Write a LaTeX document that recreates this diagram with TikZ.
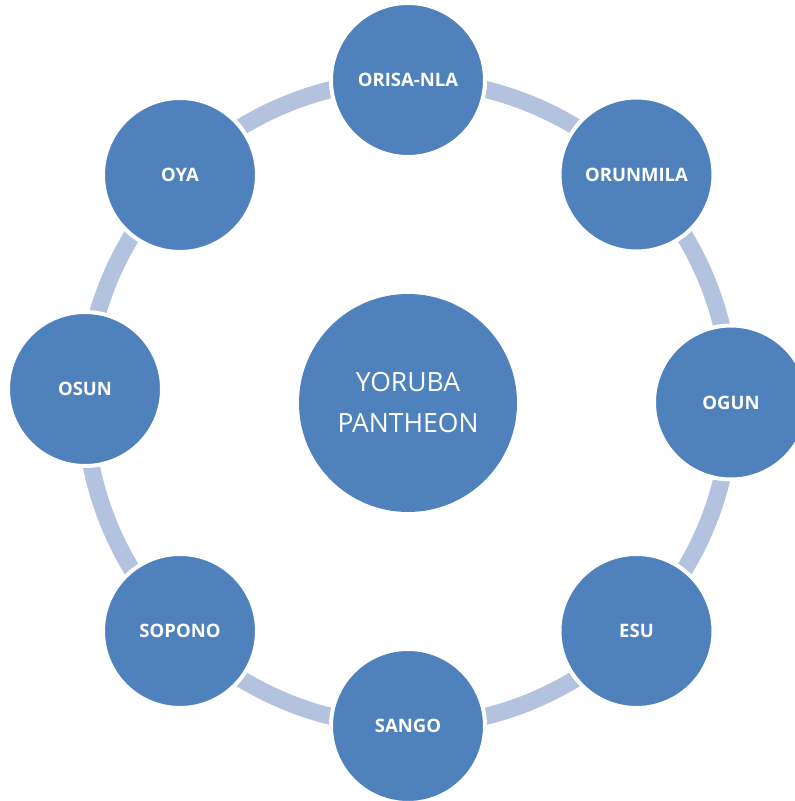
\documentclass[tikz,border=0pt]{standalone}
\usepackage{fontspec}
\setmainfont{Open Sans}
\definecolor{orisablue}{RGB}{79, 129, 189}
\definecolor{ringblue}{RGB}{179, 194, 222}
\usepackage{tikz}
\usetikzlibrary{backgrounds}

\begin{document}
\begin{tikzpicture}[x=1pt, y=1pt,
    deity/.style={circle, draw=white, line width=4pt, fill=orisablue, minimum size=154pt, inner sep=0pt, text=white, font=\fontsize{18.5}{22}\selectfont\bfseries},
    core/.style={circle, fill=orisablue, minimum size=218pt, inner sep=0pt, align=center, text=white, font=\fontsize{26.5}{41}\selectfont},
    link/.style={draw=ringblue, line width=17pt, looseness=0.885}]

\useasboundingbox (0,0) rectangle (795,801);
\clip (0,0) rectangle (795,801);

\node[core] (yoruba) at (408,398) {YORUBA\\PANTHEON};

\node[deity] (orisanla) at (408,721) {ORISA-NLA};
\node[deity] (orunmila) at (636.5,626.5) {ORUNMILA};
\node[deity] (ogun) at (731,398.5) {OGUN};
\node[deity] (esu) at (636.5,170) {ESU};
\node[deity] (sango) at (408,75) {SANGO};
\node[deity] (sopono) at (180,170) {SOPONO};
\node[deity] (osun) at (85,412) {OSUN};
\node[deity] (oya) at (180,626) {OYA};

\begin{pgfonlayer}{background}
\draw[link] (orisanla.center) to[bend left=22.5] (orunmila.center);
\draw[link] (orunmila.center) to[bend left=22.5] (ogun.center);
\draw[link] (ogun.center) to[bend left=22.5] (esu.center);
\draw[link] (esu.center) to[bend left=22.5] (sango.center);
\draw[link] (sango.center) to[bend left=22.5] (sopono.center);
\draw[link] (sopono.center) to[bend left=23.75] (osun.center);
\draw[link] (osun.center) to[bend left=21.25] (oya.center);
\draw[link] (oya.center) to[bend left=22.5] (orisanla.center);
\end{pgfonlayer}
\end{tikzpicture}
\end{document}
